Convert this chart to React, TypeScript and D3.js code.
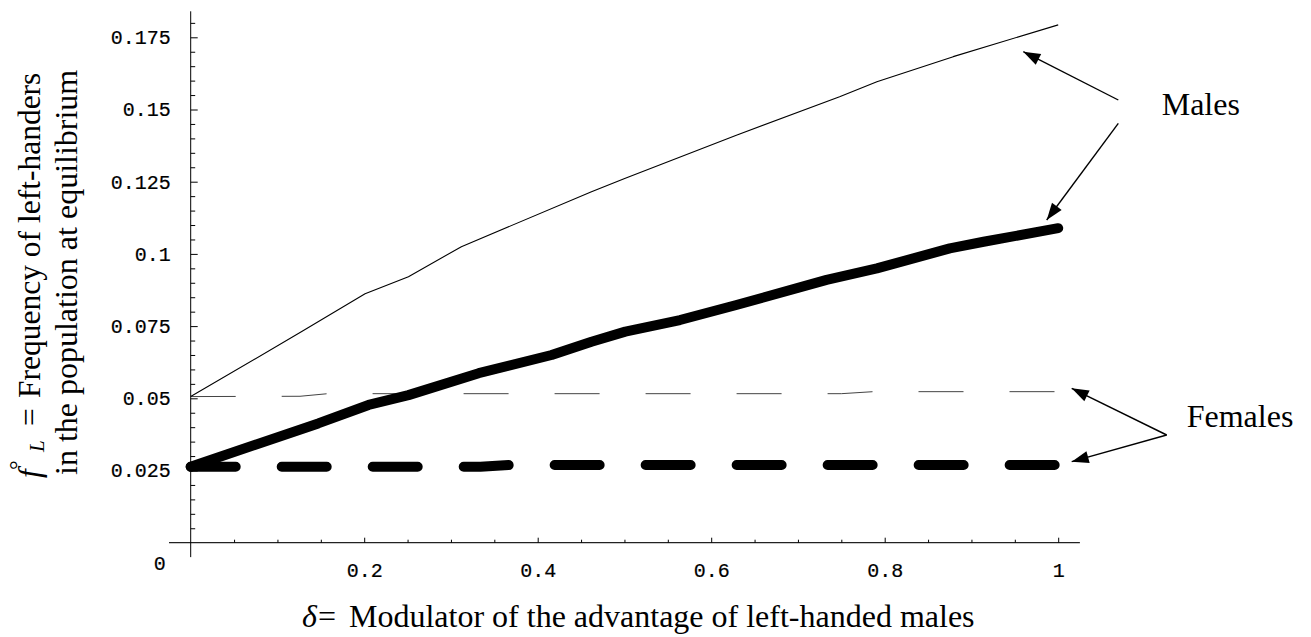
import React, {useEffect, useRef} from 'react';
import * as d3 from 'd3';

// delta values and equilibrium frequencies
const MALE_THIN_D = [0, 0.128, 0.201, 0.251, 0.312, 0.462, 0.501, 0.629, 0.748, 0.791, 0.879, 1.0];
const MALE_THIN_F = [0.0506, 0.0731, 0.0862, 0.0921, 0.1025, 0.1215, 0.1262, 0.1411, 0.1544, 0.1596, 0.1683, 0.1793];

const MALE_THICK_D = [0, 0.147, 0.205, 0.251, 0.332, 0.416, 0.462, 0.501, 0.564, 0.629, 0.733, 0.791, 0.875, 0.914, 1.0];
const MALE_THICK_F = [0.0263, 0.0413, 0.0477, 0.0511, 0.0587, 0.065, 0.0696, 0.0731, 0.0771, 0.0823, 0.091, 0.095, 0.1019, 0.1042, 0.1089];

const FEMALE_THIN_D = [0, 0.126, 0.158, 0.75, 0.787, 1.0];
const FEMALE_THIN_F = [0.0506, 0.0507, 0.0516, 0.0516, 0.0523, 0.0523];

const FEMALE_THICK_D = [0, 0.334, 0.368, 1.0];
const FEMALE_THICK_F = [0.0263, 0.0263, 0.0269, 0.0269];

const X_TICKS = [0.2, 0.4, 0.6, 0.8, 1];
const X_TICK_LABELS = ['0.2', '0.4', '0.6', '0.8', '1'];
const Y_TICKS = [0.025, 0.05, 0.075, 0.1, 0.125, 0.15, 0.175];
const Y_TICK_LABELS = ['0.025', '0.05', '0.075', '0.1', '0.125', '0.15', '0.175'];

const MONO = '"Liberation Mono", "DejaVu Sans Mono", monospace';
const SERIF = '"Liberation Serif", "Times New Roman", serif';

const App = () => {
  const ref = useRef<SVGSVGElement>(null);

  useEffect(() => {
    const svg = d3.select(ref.current);
    svg.selectAll('*').remove();

    const x = d3.scaleLinear().domain([0, 1]).range([190.7, 1058.2]);
    const y = d3.scaleLinear().domain([0, 0.175]).range([542.7, 37.3]);

    // axes lines, crossing at the origin
    svg.append('line').attr('x1', x(-0.025)).attr('x2', x(1.025)).attr('y1', y(0)).attr('y2', y(0))
      .attr('stroke', '#222').attr('stroke-width', 1.2);
    svg.append('line').attr('x1', x(0)).attr('x2', x(0)).attr('y1', y(-0.005)).attr('y2', y(0.184))
      .attr('stroke', '#000').attr('stroke-width', 1);

    // x ticks (pointing up)
    const gx = svg.append('g').attr('transform', `translate(0,${y(0)})`)
      .call(d3.axisBottom(x).tickValues(X_TICKS).tickFormat((_d, i) => X_TICK_LABELS[i]).tickSizeInner(-5).tickSizeOuter(0).tickPadding(20));
    gx.attr('font-size', 20).attr('font-family', MONO);
    gx.selectAll('text').attr('stroke', '#000').attr('stroke-width', 0.2);
    gx.select('.domain').remove();
    const xMinor = d3.range(1, 20).map(i => i * 0.05).filter(v => Math.abs(v * 5 - Math.round(v * 5)) > 1e-6);
    const gxm = svg.append('g').attr('transform', `translate(0,${y(0)})`)
      .call(d3.axisBottom(x).tickValues(xMinor).tickFormat(() => '').tickSizeInner(-3).tickSizeOuter(0));
    gxm.select('.domain').remove();

    // y ticks (pointing right)
    const gy = svg.append('g').attr('transform', `translate(${x(0)},0)`)
      .call(d3.axisLeft(y).tickValues(Y_TICKS).tickFormat((_d, i) => Y_TICK_LABELS[i]).tickSizeInner(-7).tickSizeOuter(0).tickPadding(20));
    gy.attr('font-size', 20).attr('font-family', MONO);
    gy.selectAll('text').attr('stroke', '#000').attr('stroke-width', 0.2);
    gy.select('.domain').remove();
    const yMinor = d3.range(1, 37).map(i => i * 0.005).filter(v => Math.abs(v * 40 - Math.round(v * 40)) > 1e-6);
    const gym = svg.append('g').attr('transform', `translate(${x(0)},0)`)
      .call(d3.axisLeft(y).tickValues(yMinor).tickFormat(() => '').tickSizeInner(-4.5).tickSizeOuter(0));
    gym.select('.domain').remove();

    svg.append('text').attr('x', x(0) - 31).attr('y', y(0) + 27).attr('text-anchor', 'middle')
      .attr('font-family', MONO).attr('font-size', 20).attr('stroke', '#000').attr('stroke-width', 0.2).text('0');

    const line = d3.line<[number, number]>().x(d => x(d[0])).y(d => y(d[1]));

    svg.append('path').attr('d', line(d3.zip(FEMALE_THIN_D, FEMALE_THIN_F) as [number, number][]))
      .attr('fill', 'none').attr('stroke', '#444').attr('stroke-width', 1).attr('stroke-dasharray', '45,46');
    svg.append('path').attr('d', line(d3.zip(MALE_THIN_D, MALE_THIN_F) as [number, number][]))
      .attr('fill', 'none').attr('stroke', '#000').attr('stroke-width', 1.1).attr('stroke-linejoin', 'round');
    svg.append('path').attr('d', line(d3.zip(MALE_THICK_D, MALE_THICK_F) as [number, number][]))
      .attr('fill', 'none').attr('stroke', '#000').attr('stroke-width', 10)
      .attr('stroke-linecap', 'round').attr('stroke-linejoin', 'round');
    svg.append('path').attr('d', line(d3.zip(FEMALE_THICK_D, FEMALE_THICK_F) as [number, number][]))
      .attr('fill', 'none').attr('stroke', '#000').attr('stroke-width', 10)
      .attr('stroke-linecap', 'round').attr('stroke-linejoin', 'round').attr('stroke-dasharray', '45,46');

    // annotation arrows
    const arrow = (x1: number, y1: number, x2: number, y2: number) => {
      svg.append('line').attr('x1', x1).attr('y1', y1).attr('x2', x2).attr('y2', y2)
        .attr('stroke', '#000').attr('stroke-width', 1.4);
      const a = Math.atan2(y2 - y1, x2 - x1);
      const len = 17, hw = 6;
      const bx = x2 - len * Math.cos(a), by = y2 - len * Math.sin(a);
      const pts = [
        [x2, y2],
        [bx + hw * Math.sin(a), by - hw * Math.cos(a)],
        [bx - hw * Math.sin(a), by + hw * Math.cos(a)],
      ];
      svg.append('polygon').attr('points', pts.map(p => p.join(',')).join(' ')).attr('fill', '#000');
    };
    arrow(1118.3, 100, 1023.3, 51.7);
    arrow(1118.3, 123.3, 1046.7, 220);
    arrow(1166.7, 435, 1071.7, 388.3);
    arrow(1166.7, 435, 1071.7, 461.7);

    svg.append('text').attr('x', 1161.7).attr('y', 115).attr('font-family', SERIF).attr('font-size', 32).text('Males');
    svg.append('text').attr('x', 1186.7).attr('y', 426.7).attr('font-family', SERIF).attr('font-size', 32).text('Females');

    // x axis title
    const xt = svg.append('text').attr('y', 627).attr('font-family', SERIF).attr('font-size', 32);
    xt.append('tspan').attr('x', 302).attr('font-style', 'italic').text('δ');
    xt.append('tspan').attr('x', 318).text('=');
    xt.append('tspan').attr('x', 349).text('Modulator of the advantage of left-handed males');

    // y axis title, two lines
    const yt1 = svg.append('text').attr('transform', 'translate(40,478) rotate(-90)')
      .attr('font-family', SERIF).attr('font-size', 31.5);
    yt1.append('tspan').attr('x', 0).attr('y', 0).attr('font-style', 'italic').text('f');
    yt1.append('tspan').attr('x', 8).attr('y', -14).attr('font-size', 24).text('°');
    yt1.append('tspan').attr('x', 26).attr('y', 4).attr('font-size', 21).attr('font-style', 'italic').text('L');
    yt1.append('tspan').attr('x', 52).attr('y', 0).text('=');
    yt1.append('tspan').attr('x', 80).attr('y', 0).text('Frequency of left-handers');

    svg.append('text').attr('transform', 'translate(77,475) rotate(-90)')
      .attr('font-family', SERIF).attr('font-size', 32).text('in the population at equilibrium');
  }, []);

  return (
    <div className="App">
      <svg ref={ref} width={1311} height={637} style={{position: 'absolute', left: 0, top: 0, background: '#fff'}}>
      </svg>
    </div>
  );
};

export default App;
